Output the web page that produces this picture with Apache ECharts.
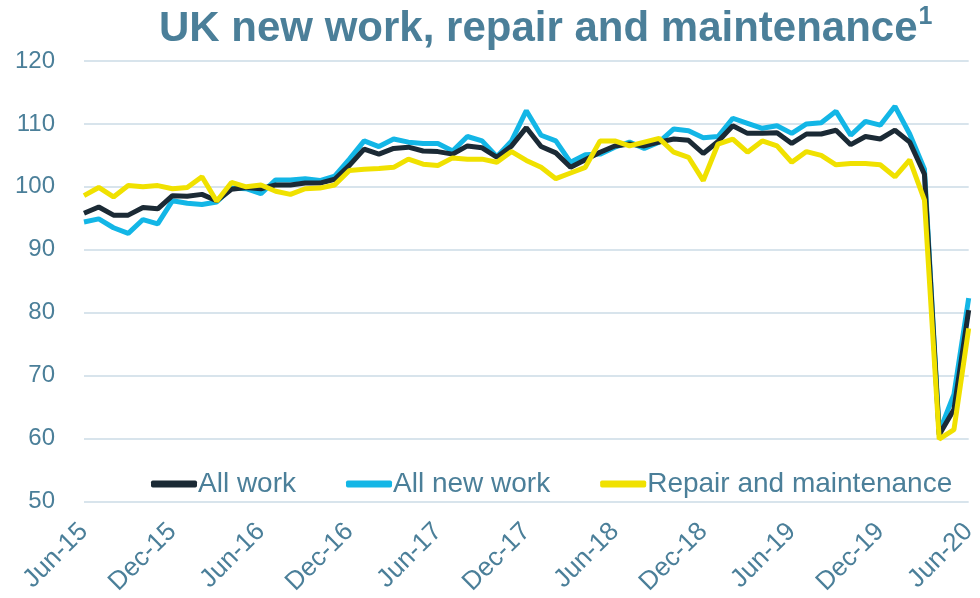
<!DOCTYPE html>
<html>
<head>
<meta charset="utf-8">
<title>UK new work, repair and maintenance</title>
<script src="https://cdn.jsdelivr.net/npm/echarts@6/dist/echarts.min.js"></script>
<style>
  html, body { margin: 0; padding: 0; background: #fff; }
  #chart { width: 980px; height: 598px; }
</style>
</head>
<body>
<div id="chart"></div>
<script>
// months Jun-15 .. Jun-20
const months = [
  'Jun-15', 'Jul-15', 'Aug-15', 'Sep-15', 'Oct-15', 'Nov-15',
  'Dec-15', 'Jan-16', 'Feb-16', 'Mar-16', 'Apr-16', 'May-16',
  'Jun-16', 'Jul-16', 'Aug-16', 'Sep-16', 'Oct-16', 'Nov-16',
  'Dec-16', 'Jan-17', 'Feb-17', 'Mar-17', 'Apr-17', 'May-17',
  'Jun-17', 'Jul-17', 'Aug-17', 'Sep-17', 'Oct-17', 'Nov-17',
  'Dec-17', 'Jan-18', 'Feb-18', 'Mar-18', 'Apr-18', 'May-18',
  'Jun-18', 'Jul-18', 'Aug-18', 'Sep-18', 'Oct-18', 'Nov-18',
  'Dec-18', 'Jan-19', 'Feb-19', 'Mar-19', 'Apr-19', 'May-19',
  'Jun-19', 'Jul-19', 'Aug-19', 'Sep-19', 'Oct-19', 'Nov-19',
  'Dec-19', 'Jan-20', 'Feb-20', 'Mar-20', 'Apr-20', 'May-20',
  'Jun-20'
]

const allWork = [
  95.8, 96.8, 95.5, 95.5, 96.7, 96.5, 98.6, 98.5, 98.8, 97.8, 99.6, 99.9,
  99.7, 100.3, 100.3, 100.6, 100.6, 101.2, 103.4, 106.0, 105.2, 106.1, 106.3, 105.7,
  105.6, 105.2, 106.5, 106.2, 104.7, 106.5, 109.4, 106.4, 105.4, 103.1, 104.3, 105.5,
  106.5, 106.8, 106.5, 107.1, 107.6, 107.4, 105.3, 107.2, 109.7, 108.5, 108.5, 108.6,
  106.9, 108.4, 108.4, 109.0, 106.7, 108.0, 107.6, 109.0, 107.1, 102.0, 60.6, 64.6,
  80.4
]

const allNewWork = [
  94.4, 94.9, 93.5, 92.6, 94.8, 94.1, 97.8, 97.4, 97.2, 97.6, 99.8, 99.7,
  98.9, 101.1, 101.1, 101.3, 101.0, 101.7, 104.4, 107.3, 106.4, 107.6, 107.1, 106.9,
  106.9, 105.7, 108.0, 107.3, 104.8, 107.3, 112.1, 108.2, 107.3, 103.9, 105.1, 105.2,
  106.3, 107.1, 106.1, 107.1, 109.2, 108.9, 107.8, 108.0, 110.9, 110.1, 109.3, 109.7,
  108.5, 110.0, 110.2, 112.0, 108.2, 110.4, 109.8, 112.8, 108.4, 102.8, 61.0, 67.0,
  82.3
]

const repairMaint = [
  98.6, 99.9, 98.4, 100.2, 100.0, 100.2, 99.7, 99.9, 101.6, 97.7, 100.7, 100.0,
  100.3, 99.3, 98.8, 99.7, 99.8, 100.3, 102.6, 102.8, 102.9, 103.1, 104.4, 103.6,
  103.4, 104.6, 104.4, 104.4, 103.9, 105.6, 104.2, 103.1, 101.3, 102.2, 103.1, 107.3,
  107.3, 106.5, 107.1, 107.7, 105.5, 104.7, 101.0, 106.8, 107.6, 105.5, 107.3, 106.5,
  103.9, 105.6, 105.0, 103.5, 103.7, 103.7, 103.5, 101.6, 104.3, 97.9, 59.9, 61.4,
  77.5
]

const textColor = '#4b7f99'
const chart = echarts.init(document.getElementById('chart'))

chart.setOption({
  animation: false,
  textStyle: { fontFamily: 'Liberation Sans, Arial, sans-serif' },
  title: {
    text: '{t|UK new work, repair and maintenance}{s|1}',
    left: 154,
    top: 0,
    textStyle: {
      rich: {
        t: { fontSize: 42, fontWeight: 'bold', color: textColor, lineHeight: 48 },
        s: { fontSize: 25, fontWeight: 'bold', color: textColor, verticalAlign: 'top', lineHeight: 48, padding: [0, 0, 0, 1] }
      }
    }
  },
  legend: {
    left: 146,
    top: 465,
    itemGap: 50,
    itemWidth: 46,
    itemHeight: 7,
    icon: 'roundRect',
    textStyle: { fontSize: 28, color: textColor, padding: [0, 0, 0, -4] },
    data: ['All work', 'All new work', 'Repair and maintenance']
  },
  grid: {
    left: 84,
    right: 2,
    top: 61,
    bottom: 95
  },
  xAxis: {
    type: 'category',
    boundaryGap: false,
    data: months,
    axisLine: { show: false },
    axisTick: { show: false },
    axisLabel: {
      interval: 5,
      rotate: 45,
      margin: 26,
      fontSize: 26,
      color: textColor
    }
  },
  yAxis: {
    type: 'value',
    min: 50,
    max: 120,
    interval: 10,
    axisLine: { show: false },
    axisTick: { show: false },
    axisLabel: { fontSize: 24, color: textColor, margin: 29 },
    splitLine: { lineStyle: { color: '#d8e4ec', width: 2 } }
  },
  series: [
    {
      name: 'All work',
      type: 'line',
      data: allWork,
      showSymbol: false,
      z: 3,
      lineStyle: { color: '#1b2a35', width: 5 },
      itemStyle: { color: '#1b2a35' }
    },
    {
      name: 'All new work',
      type: 'line',
      data: allNewWork,
      showSymbol: false,
      z: 2,
      lineStyle: { color: '#13b6e6', width: 5 },
      itemStyle: { color: '#13b6e6' }
    },
    {
      name: 'Repair and maintenance',
      type: 'line',
      data: repairMaint,
      showSymbol: false,
      z: 4,
      lineStyle: { color: '#f0e100', width: 5 },
      itemStyle: { color: '#f0e100' }
    }
  ]
})
</script>
</body>
</html>
